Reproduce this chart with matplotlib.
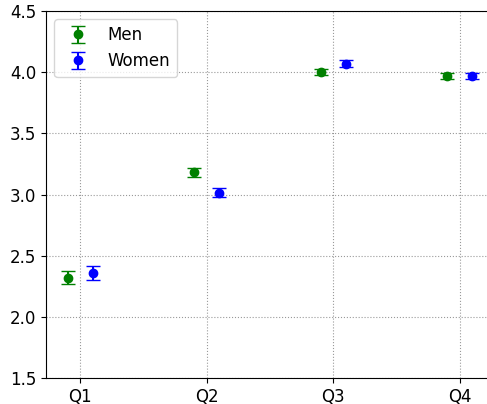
import matplotlib
matplotlib.use("Agg")
import matplotlib.pyplot as plt
import numpy as np

categories = ["Q1", "Q2", "Q3", "Q4"]
men_mean = [2.32, 3.18, 4.00, 3.97]
men_err = [0.055, 0.035, 0.025, 0.025]
women_mean = [2.36, 3.015, 4.07, 3.97]
women_err = [0.055, 0.035, 0.03, 0.025]

fig = plt.figure(figsize=(4.87, 4.04), dpi=100)
ax = fig.add_axes([46/487, 26/404, 448/487, 367/404])
x = np.arange(len(categories))
ax.errorbar(x - 0.1, men_mean, yerr=men_err, fmt='o', color='green', ecolor='green',
            capsize=5, markersize=6, label='Men')
ax.errorbar(x + 0.1, women_mean, yerr=women_err, fmt='o', color='blue', ecolor='blue',
            capsize=5, markersize=6, label='Women')
ax.set_xticks(x)
ax.set_xticklabels(categories)
ax.set_xlim(-0.27, 3.27)
ax.set_ylim(1.5, 4.5)
ax.set_yticks(np.arange(1.5, 4.51, 0.5))
ax.tick_params(labelsize=12)
ax.spines['right'].set_visible(False)
ax.grid(True, linestyle=':', color='gray', alpha=0.8)
ax.legend(loc='upper left', fontsize=12)
fig.savefig("out.png", dpi=100)
